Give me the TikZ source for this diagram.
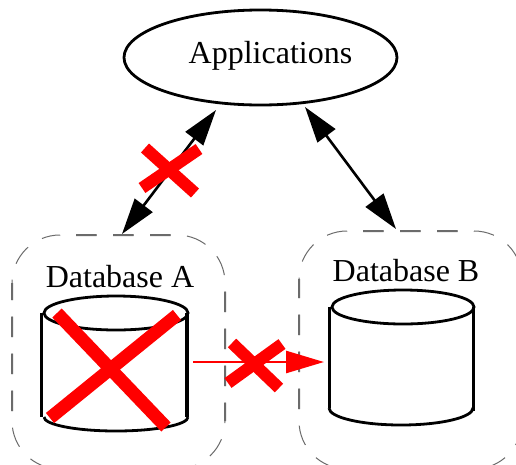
\documentclass[tikz,border=0pt]{standalone}
\usepackage{fontspec}
\setmainfont{Liberation Serif}
\usetikzlibrary{arrows.meta,calc,shapes.geometric}
\tikzset{
  dbframe/.style={inner sep=0pt,outer sep=0pt,anchor=north west},
  label/.style={inner sep=0pt,outer sep=0pt,anchor=base,font=\fontsize{32}{36}\selectfont},
  appnode/.style={ellipse,draw=black,line width=2.8pt,minimum width=273pt,minimum height=95pt,inner sep=0pt,outer sep=0pt},
  framearc/.style={draw=black!58,line width=1pt,rounded corners=48pt,dash pattern=on 20.5pt off 16.5pt,dash phase=21pt},
  frameside/.style={framearc,line width=2pt},
  backphase/.style={dash phase=0pt},
  cyl/.style={draw=black,line width=2.8pt},
  cylside/.style={draw=black,line width=3.4pt},
  biarrow/.style={draw=black,line width=2.6pt,{Triangle[length=36pt,width=22pt]}-{Triangle[length=36pt,width=22pt]}},
  redarrow/.style={draw=red,line width=2.6pt,-{Triangle[length=38pt,width=22pt]}},
  crossbar/.style={draw=red,line width=12pt},
  bigbar/.style={draw=red,line width=13pt},
}
\newcommand{\framepath}[2]{%
  \path[#2] ($(#1.north west)+(48,0)$) -- (#1.north east) -- (#1.south east) -- (#1.south west) -- (#1.north west) -- ($(#1.north west)+(48,0)$);}
\newcommand{\frameright}[2]{%
  \path[#2] ($(#1.north west)+(48,0)$) -- (#1.north east) -- (#1.south east) -- ($(#1.south west)+(48,0)$);}
\newcommand{\frameleft}[2]{%
  \path[#2,backphase] ($(#1.north west)+(48,0)$) -- (#1.north west) -- (#1.south west) -- ($(#1.south west)+(48,0)$);}
\newcommand{\sideclip}[1]{%
  \clip ($(#1.north west)+(48,-5)$) rectangle ($(#1.south east)+(-48,5)$)
        ($(#1.north west)+(-5,48)$) rectangle ($(#1.south east)+(5,-48)$);}
\newcommand{\dashframe}[1]{%
  \framepath{#1}{framearc}
  \begin{scope}
    \sideclip{#1}
    \framepath{#1}{frameside}
  \end{scope}}
\newcommand{\dashframesplit}[1]{%
  \frameright{#1}{framearc}
  \frameleft{#1}{framearc}
  \begin{scope}
    \sideclip{#1}
    \frameright{#1}{frameside}
    \frameleft{#1}{frameside}
  \end{scope}}
\begin{document}
\begin{tikzpicture}[x=1pt,y=-1pt]
\useasboundingbox (0,0) rectangle (516,464);
% frames
\node[dbframe,minimum width=213pt,minimum height=234pt] (dba) at (12,235) {};
\node[dbframe,minimum width=223pt,minimum height=238pt] (dbb) at (299,231) {};
\dashframe{dba}
\dashframesplit{dbb}
% application
\node[appnode] (app) at (260.5,57.5) {};
\node[label] (apptext) at (270.5,63) {Applications};
% labels
\node[label] (dbatext) at (120,287) {Database A};
\node[label] (dbbtext) at (406,281) {Database B};
% cylinder A
\draw[cyl] (116,313) ellipse [x radius=72,y radius=17];
\draw[cyl] (44,417) arc [start angle=180,end angle=0,x radius=72,y radius=14];
\draw[cylside] (41.5,313) -- (41.5,417);
\draw[cylside] (187,313) -- (187,417);
% cylinder B
\draw[cyl] (403,307) ellipse [x radius=71,y radius=17];
\draw[cyl] (329,408) arc [start angle=180,end angle=0,x radius=72,y radius=17];
\draw[cylside] (329.5,307) -- (329.5,408);
\draw[cylside] (473.5,307) -- (473.5,411);
% connector ends
\coordinate (appL) at ($(app.center)+(-44.5,52.5)$);
\coordinate (appR) at ($(app.center)+(44.5,49.5)$);
\coordinate (dbaT) at ($(dba.north west)+(110,-1)$);
\coordinate (dbbT) at ($(dbb.north west)+(97,-2)$);
\coordinate (dbaE) at ($(dba.north west)+(181,127)$);
\coordinate (dbbW) at ($(dbb.north west)+(25,131)$);
% connectors
\draw[biarrow] (dbaT) -- (appL);
\draw[biarrow] (appR) -- (dbbT);
\draw[redarrow] (dbaE) -- (dbbW);
% crosses
\draw[bigbar] (57,313) -- (166,427);
\draw[bigbar] (177,315) -- (50,418);
\draw[crossbar] (145,148) -- (195,193);
\draw[crossbar] (199,149) -- (142,188);
\draw[crossbar] (232,343) -- (279,388);
\draw[crossbar] (282,344) -- (228,383);
\end{tikzpicture}
\end{document}
